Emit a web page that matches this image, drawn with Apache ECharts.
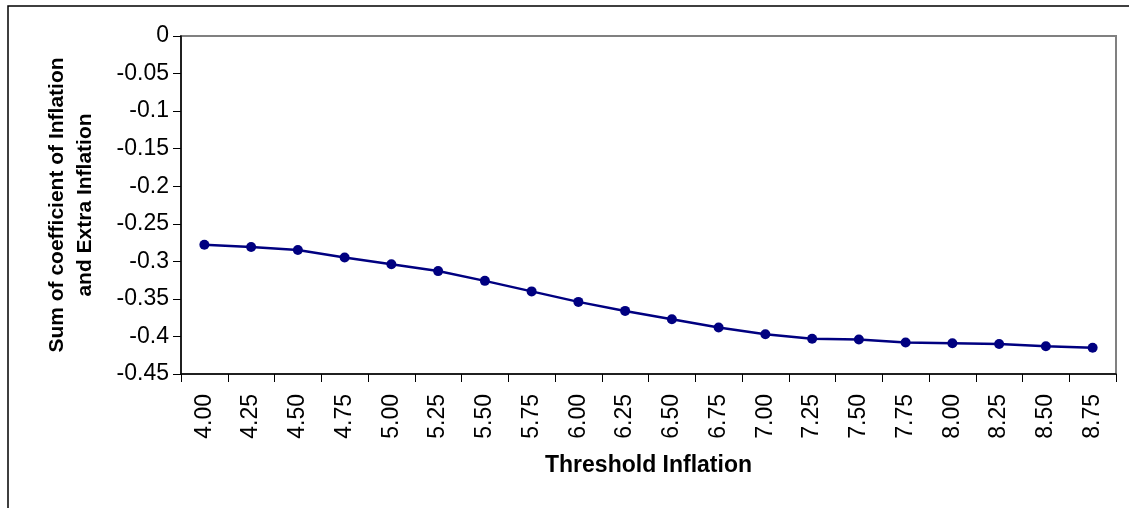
<!DOCTYPE html>
<html>
<head>
<meta charset="utf-8">
<script src="https://cdn.jsdelivr.net/npm/echarts@6/dist/echarts.min.js"></script>
<style>
html,body{margin:0;padding:0;background:#fff;}
#chart{width:1129px;height:508px;}
</style>
</head>
<body>
<div id="chart"></div>
<script>
const categories = ["4.00","4.25","4.50","4.75","5.00","5.25","5.50","5.75","6.00","6.25","6.50","6.75","7.00","7.25","7.50","7.75","8.00","8.25","8.50","8.75"];
const sumCoefficient = [-0.278,-0.281,-0.285,-0.295,-0.304,-0.313,-0.326,-0.340,-0.354,-0.366,-0.377,-0.388,-0.397,-0.403,-0.404,-0.408,-0.409,-0.410,-0.413,-0.415];
const xTitle = "Threshold Inflation";
const yTitle = "Sum of coefficient of Inflation\nand Extra Inflation";

const FONT = "'Liberation Sans', Arial, sans-serif";
const chart = echarts.init(document.getElementById('chart'), null, {renderer:'canvas'});
chart.setOption({
  animation:false,
  backgroundColor:'#fff',
  graphic:[
    {type:'rect', shape:{x:8,y:6,width:1200,height:600}, style:{fill:'none', stroke:'#000', lineWidth:1.5}, silent:true, z:-1}
  ],
  grid:{left:181, top:36, right:13, bottom:134, show:true, borderColor:'#808080', borderWidth:2, backgroundColor:'transparent'},
  xAxis:{
    type:'category',
    data:categories,
    boundaryGap:true,
    name:xTitle,
    nameLocation:'middle',
    nameGap:80,
    nameTextStyle:{fontFamily:FONT, fontSize:23, fontWeight:'bold', color:'#000'},
    axisLine:{show:true, onZero:false, lineStyle:{color:'#000', width:1.5}},
    axisTick:{show:true, length:8, lineStyle:{color:'#000', width:1}},
    axisLabel:{rotate:90, margin:20, fontFamily:FONT, fontSize:23, color:'#000', interval:0},
    splitLine:{show:false}
  },
  yAxis:{
    type:'value',
    min:-0.45, max:0, interval:0.05,
    name:yTitle,
    nameLocation:'middle',
    nameGap:82,
    nameRotate:90,
    nameTextStyle:{fontFamily:FONT, fontSize:21, fontWeight:'bold', color:'#000', lineHeight:28, align:'center'},
    axisLine:{show:true, lineStyle:{color:'#000', width:1.5}},
    axisTick:{show:true, length:8, lineStyle:{color:'#000', width:1}},
    axisLabel:{margin:12, fontFamily:FONT, fontSize:23, color:'#000'},
    splitLine:{show:false}
  },
  series:[{
    type:'line',
    data:sumCoefficient,
    symbol:'circle',
    symbolSize:10,
    lineStyle:{color:'#000080', width:2.5},
    itemStyle:{color:'#000080'}
  }]
});
</script>
</body>
</html>
